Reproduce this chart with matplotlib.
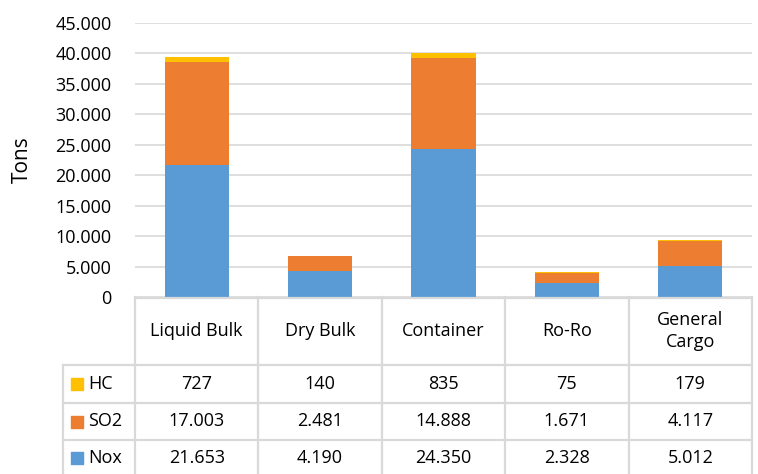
import matplotlib
matplotlib.use("Agg")
import matplotlib.pyplot as plt
from matplotlib.ticker import FuncFormatter

# emissions per ship type (tons)
categories = ["Liquid Bulk", "Dry Bulk", "Container", "Ro-Ro", "General\nCargo"]
nox = [21653, 4190, 24350, 2328, 5012]
so2 = [17003, 2481, 14888, 1671, 4117]
hc = [727, 140, 835, 75, 179]

series = [("HC", hc, "#FFC000"), ("SO2", so2, "#ED7D31"), ("Nox", nox, "#5B9BD5")]

plt.rcParams["font.family"] = ["Open Sans", "DejaVu Sans"]
fs = 13
grid_c = "#D9D9D9"
W, H = 758, 474

def dots(v):
    return f"{int(v):,}".replace(",", ".")

fig = plt.figure(figsize=(W / 100, H / 100), dpi=100)

# chart area in pixels (measured from the top)
x0, x1, y_top, y0 = 135, 752, 23, 297
ax = fig.add_axes([x0 / W, 1 - y0 / H, (x1 - x0) / W, (y0 - y_top) / H])

xs = range(len(categories))
ax.bar(xs, nox, width=0.52, color="#5B9BD5", zorder=2)
ax.bar(xs, so2, width=0.52, bottom=nox, color="#ED7D31", zorder=2)
base = [a + b for a, b in zip(nox, so2)]
ax.bar(xs, hc, width=0.52, bottom=base, color="#FFC000", zorder=2)

ax.set_xlim(-0.5, len(categories) - 0.5)
ax.set_ylim(0, 45000)
ax.set_yticks(range(0, 45001, 5000))
ax.yaxis.set_major_formatter(FuncFormatter(lambda v, p: dots(v)))
ax.tick_params(axis="y", length=0, pad=17, labelsize=fs, colors="#000000")
ax.tick_params(axis="x", length=0, labelbottom=False)
ax.grid(axis="y", color=grid_c, lw=1.2, zorder=0)
for s in ax.spines.values():
    s.set_visible(False)

fig.text(22 / W, 1 - 160 / H, "Tons", rotation=90, ha="center", va="center", fontsize=15)

# data table below the chart, y in pixel rows from the top
colw = (x1 - x0) / len(categories)
tleft = x0 - 72
tax = fig.add_axes([tleft / W, 0, (x1 - tleft) / W, (H - y0) / H])
lx = -0.5 - (x0 - tleft) / colw
right = len(categories) - 0.5

rows = [365, 403, 440, 478]
lw = 1.6
tax.plot([-0.5, right], [y0 + 0.5, y0 + 0.5], color=grid_c, lw=lw, clip_on=False)
for r in rows:
    tax.plot([lx, right], [r, r], color=grid_c, lw=lw, clip_on=False)
for i in range(len(categories) + 1):
    tax.plot([i - 0.5, i - 0.5], [y0, H], color=grid_c, lw=lw, clip_on=False)
tax.plot([lx, lx], [rows[0], H], color=grid_c, lw=lw, clip_on=False)

for i, c in enumerate(categories):
    tax.text(i, (y0 + rows[0]) / 2, c, ha="center", va="center", fontsize=fs, linespacing=1.35)

centers = [(rows[0] + rows[1]) / 2, (rows[1] + rows[2]) / 2, (rows[2] + 476) / 2]
for k, (name, vals, col) in enumerate(series):
    yc = centers[k]
    tax.scatter([lx + 14 / colw], [yc], marker="s", s=80, color=col, clip_on=False)
    tax.text(lx + 25 / colw, yc, name, ha="left", va="center", fontsize=fs)
    for i, v in enumerate(vals):
        tax.text(i, yc, dots(v), ha="center", va="center", fontsize=fs)

tax.set_xlim(lx, right)
tax.set_ylim(H, y0)
tax.axis("off")

fig.savefig("out.png", dpi=100)
